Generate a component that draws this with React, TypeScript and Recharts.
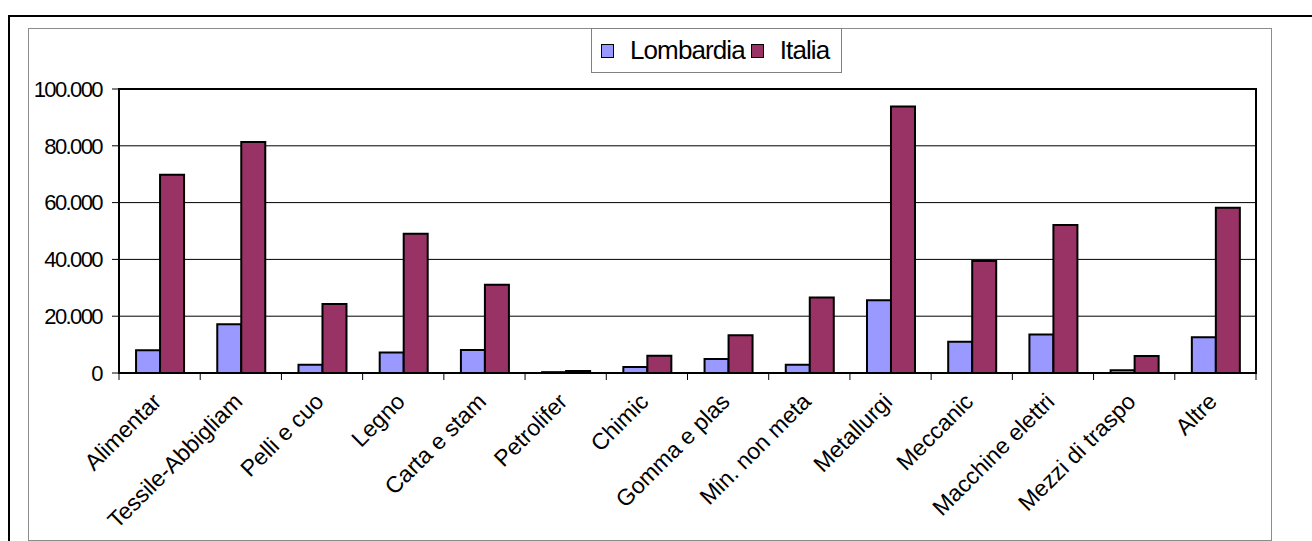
import React from 'react';
import { BarChart, Bar, XAxis, YAxis, CartesianGrid, Legend, ReferenceArea } from 'recharts';

const categories = [
  'Alimentar',
  'Tessile-Abbigliam',
  'Pelli e cuo',
  'Legno',
  'Carta e stam',
  'Petrolifer',
  'Chimic',
  'Gomma e plas',
  'Min. non meta',
  'Metallurgi',
  'Meccanic',
  'Macchine elettri',
  'Mezzi di traspo',
  'Altre',
];
const seriesNames = ['Lombardia', 'Italia'];
const lombardia = [8000, 17200, 2900, 7200, 8100, 300, 2100, 4900, 2900, 25600, 11000, 13600, 1000, 12600];
const italia = [69800, 81300, 24300, 49000, 31100, 700, 6100, 13300, 26600, 93800, 39400, 52100, 6000, 58200];
const yTicks = [0, 20000, 40000, 60000, 80000, 100000];

const data = categories.map((name, i) => ({ name, Lombardia: lombardia[i], Italia: italia[i] }));

const FONT = '"Liberation Sans", Arial, sans-serif';
const W = 1242;
const H = 511;
const Y_W = 90;
const M = { top: 60, right: 15, bottom: 0, left: 0 };
const BAND = (W - Y_W - M.left - M.right) / categories.length;

const fmt = (v: number) => String(v).replace(/\B(?=(\d{3})+(?!\d))/g, '.');

const CategoryTick = (props: any) => {
  const { x, y, payload, index } = props;
  const tx = x + 3;
  const ty = y + 30;
  return (
    <g>
      <line x1={x - BAND / 2} y1={y} x2={x - BAND / 2} y2={y + 7} stroke="#000" strokeWidth={1} />
      {index === categories.length - 1 && (
        <line x1={x + BAND / 2} y1={y} x2={x + BAND / 2} y2={y + 7} stroke="#000" strokeWidth={1} />
      )}
      <text
        x={tx}
        y={ty}
        textAnchor="end"
        transform={`rotate(-45, ${tx}, ${ty})`}
        fontSize={23}
        fontFamily={FONT}
        fill="#000"
      >
        {payload.value}
      </text>
    </g>
  );
};

const renderLegend = (props: any) => {
  const items = [...(props.payload || [])].sort(
    (a: any, b: any) => seriesNames.indexOf(a.value) - seriesNames.indexOf(b.value)
  );
  return (
    <div
      style={{
        boxSizing: 'border-box',
        width: 251,
        height: 45,
        border: '1px solid #808080',
        background: '#fff',
        display: 'flex',
        alignItems: 'center',
        paddingLeft: 9,
        fontFamily: FONT,
        fontSize: 26,
        letterSpacing: -0.9,
        color: '#000',
      }}
    >
      {items.map((p: any) => (
        <span key={p.value} style={{ display: 'flex', alignItems: 'center', marginRight: 6 }}>
          <span
            style={{
              display: 'inline-block',
              width: 13,
              height: 14,
              boxSizing: 'border-box',
              border: '1.5px solid #000',
              background: p.color,
              marginRight: 16,
            }}
          />
          <span>{p.value}</span>
        </span>
      ))}
    </div>
  );
};

export default function App() {
  return (
    <div style={{ position: 'relative', width: 1312, height: 541, overflow: 'hidden', background: '#fff' }}>
      <style>{'html,body{margin:0;padding:0;overflow:hidden;background:#fff}'}</style>
      {/* outer frame */}
      <div
        style={{
          position: 'absolute',
          left: 8,
          top: 15,
          width: 1400,
          height: 600,
          borderLeft: '2px solid #000',
          borderTop: '2px solid #000',
        }}
      />
      {/* chart area */}
      <div
        style={{
          position: 'absolute',
          left: 28,
          top: 28,
          width: 1244,
          height: 513,
          boxSizing: 'border-box',
          border: '1px solid #8c8c8c',
          background: '#fff',
        }}
      >
        <BarChart width={W} height={H} data={data} margin={M} barCategoryGap="21%" barGap={0}>
          <CartesianGrid vertical={false} stroke="#000" strokeWidth={1} />
          <XAxis
            dataKey="name"
            height={167}
            interval={0}
            tickLine={false}
            tickSize={0}
            tickMargin={0}
            axisLine={{ stroke: '#000', strokeWidth: 2 }}
            tick={<CategoryTick />}
          />
          <YAxis
            width={Y_W}
            domain={[0, 100000]}
            ticks={yTicks}
            tickFormatter={fmt}
            tickSize={7}
            tickMargin={10}
            tickLine={{ stroke: '#000' }}
            axisLine={{ stroke: '#000', strokeWidth: 2 }}
            tick={{ fontSize: 22, fill: '#000', fontFamily: FONT, letterSpacing: -1.6 }}
          />
          <Legend
            layout="horizontal"
            verticalAlign="middle"
            align="center"
            content={renderLegend}
            wrapperStyle={{ position: 'absolute', left: 562, top: -1, width: 251, height: 45 }}
          />
          <Bar dataKey="Lombardia" fill="#9999FF" stroke="#000" strokeWidth={2} isAnimationActive={false} />
          <Bar dataKey="Italia" fill="#993366" stroke="#000" strokeWidth={2} isAnimationActive={false} />
          <ReferenceArea y1={0} y2={100000} fill="none" stroke="#000" strokeWidth={2} />
        </BarChart>
      </div>
    </div>
  );
}
